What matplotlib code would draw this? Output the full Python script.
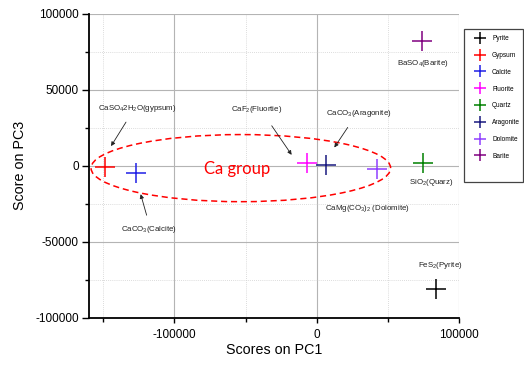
import matplotlib.pyplot as plt
from matplotlib.patches import Ellipse, Rectangle
from matplotlib.ticker import MultipleLocator

plt.rcParams['font.family'] = ['Liberation Sans', 'DejaVu Sans']
plt.rcParams['mathtext.fontset'] = 'custom'
plt.rcParams['mathtext.rm'] = 'Liberation Sans'
plt.rcParams['mathtext.default'] = 'regular'
plt.rcParams['axes.unicode_minus'] = False

# PCA scores
minerals = ['Pyrite', 'Gypsum', 'Calcite', 'Fluorite', 'Quartz', 'Aragonite', 'Dolomite', 'Barite']
pc1 = [84000, -149000, -127000, -7000, 74500, 6300, 42600, 74200]
pc3 = [-81000, -700, -4400, 2200, 2200, 700, -2200, 82200]
colours = ['black', 'red', '#1f1fe6', '#ff00ff', '#008000', '#1a1a80', '#8f3fff', '#800080']

# labels placed next to points (text, x, y)
point_labels = [
    ('BaSO$_4$(Barite)', 74900, 67500),
    ('SiO$_2$(Quarz)', 80300, -10700),
    ('FeS$_2$(Pyrite)', 87100, -65300),
    ('CaMg(CO$_3$)$_2$ (Dolomite)', 35700, -28100),
]
# labels with arrows (text, text x, text y, arrow start, arrow tip)
arrow_labels = [
    ('CaSO$_4$2H$_2$O(gypsum)', -126300, 38000, (-134000, 28800), (-144500, 13000)),
    ('CaCO$_3$(Calcite)', -117600, -42200, (-119500, -32500), (-123700, -18650)),
    ('CaF$_2$(Fluortie)', -42200, 37400, (-31600, 26400), (-17600, 7250)),
    ('CaCO$_3$(Aragonite)', 29500, 34700, (21800, 25300), (12400, 12100)),
]

fig = plt.figure(figsize=(5.24, 3.67), dpi=100)
ax = fig.add_axes([89 / 524, 1 - 317.7 / 367, 370 / 524, 303.7 / 367])

for name, x, y, c in zip(minerals, pc1, pc3, colours):
    ax.plot(x, y, marker='+', ls='none', ms=14, mew=1.1, color=c, label=name, zorder=3)

# Ca group outline
ax.add_patch(Ellipse((-53300, -1500), 210500, 44200, fill=False, edgecolor='red',
                     lw=1.1, ls=(0, (4, 2.5)), zorder=2))
ax.text(-56200, -2200, 'Ca group', color='red', fontsize=12, family='Lato',
        ha='center', va='center')

for txt, x, y in point_labels:
    ax.text(x, y, txt, fontsize=5.7, ha='center', va='center', color='#222222')

for txt, x, y, start, tip in arrow_labels:
    ax.text(x, y, txt, fontsize=5.7, ha='center', va='center', color='#222222')
    ax.annotate('', xy=tip, xytext=start,
                arrowprops=dict(arrowstyle='-|>', color='#222222', lw=0.6,
                                mutation_scale=6, shrinkA=0, shrinkB=0))

ax.set_xlim(-160000, 100000)
ax.set_ylim(-100000, 100000)
ax.xaxis.set_major_locator(MultipleLocator(100000))
ax.xaxis.set_minor_locator(MultipleLocator(50000))
ax.yaxis.set_major_locator(MultipleLocator(50000))
ax.yaxis.set_minor_locator(MultipleLocator(25000))

ax.grid(which='major', color='#b4b4b4', lw=0.8, zorder=0)
ax.grid(which='minor', color='#d0d0d0', lw=0.6, ls=(0, (1, 1.5)), zorder=0)
ax.set_axisbelow(True)

for side in ['top', 'right']:
    ax.spines[side].set_visible(False)
for side in ['left', 'bottom']:
    ax.spines[side].set_linewidth(1.3)

ax.tick_params(which='both', direction='out', width=1.0, labelsize=8.5)
ax.tick_params(axis='x', which='major', length=3.6, pad=4.3)
ax.tick_params(axis='x', which='minor', length=3.0)
ax.tick_params(axis='y', which='major', length=5.0, pad=2.2)
ax.tick_params(axis='y', which='minor', length=3.0)

ax.set_xlabel('Scores on PC1', fontsize=10.3, labelpad=2)
ax.set_ylabel('Score on PC3', fontsize=10.3, labelpad=6)

# legend sits outside the axes on the right, frame drawn separately
fig.patches.append(Rectangle((464 / 524, 1 - 182 / 367), 59 / 524, 153 / 367,
                             transform=fig.transFigure, fill=False,
                             edgecolor='#444444', lw=0.9))
fig.legend(loc='upper left', bbox_to_anchor=(466 / 524, 1 - 28 / 367), frameon=False,
           fontsize=4.7, markerscale=0.65, labelspacing=1.5, handlelength=2.0,
           handletextpad=0.9, borderpad=0.6)

fig.savefig('out.png', dpi=100)
